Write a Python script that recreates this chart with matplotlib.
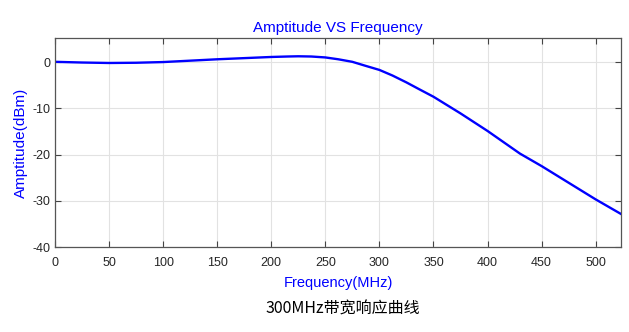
import numpy as np
import matplotlib.pyplot as plt

# measured amplitude response
freq = [0, 25, 50, 75, 100, 125, 150, 175, 200, 215, 225, 237, 250, 262,
        275, 287, 300, 312, 325, 337, 350, 375, 400, 430, 450, 475, 500, 523]
amp = [0.05, -0.1, -0.2, -0.15, 0.0, 0.3, 0.6, 0.85, 1.1, 1.2, 1.25, 1.2,
       1.0, 0.6, 0.05, -0.8, -1.7, -2.9, -4.4, -5.9, -7.5, -11.1, -14.9,
       -19.8, -22.5, -26.1, -29.7, -32.8]
xticks = [0, 50, 100, 150, 200, 250, 300, 350, 400, 450, 500]
yticks = [0, -10, -20, -30, -40]

plt.rcParams['font.family'] = ['Liberation Sans', 'DejaVu Sans']
plt.rcParams['axes.unicode_minus'] = False

fig = plt.figure(figsize=(6.29, 3.32), dpi=100)
ax = fig.add_axes([0.0874, 0.256, 0.9, 0.6295])

ax.plot(freq, amp, color='#0000ff', lw=1.7, solid_joinstyle='round')
ax.set_xlim(0, 523.5)
ax.set_ylim(-40, 5.2)
ax.set_xticks(xticks)
ax.set_yticks(yticks)
ax.grid(True, color='#e2e2e2', lw=0.8)
ax.tick_params(direction='in', top=True, right=True, length=4,
               colors='#444444', labelcolor='#262626', labelsize=9)
ax.tick_params(axis='x', pad=7)
for s in ax.spines.values():
    s.set_color('#555555')
    s.set_linewidth(0.9)

ax.set_title('Amptitude VS Frequency', color='#0000ff', fontsize=11, pad=4.5)
ax.set_xlabel('Frequency(MHz)', color='#0000ff', fontsize=10.5, labelpad=5)
ax.set_ylabel('Amptitude(dBm)', color='#0000ff', fontsize=11, labelpad=3)

fig.text(0.545, 0.07, '300MHz带宽响应曲线', ha='center', va='center',
         fontsize=11.5, family=['Noto Sans CJK SC', 'DejaVu Sans'])

fig.savefig('out.png', dpi=100)
